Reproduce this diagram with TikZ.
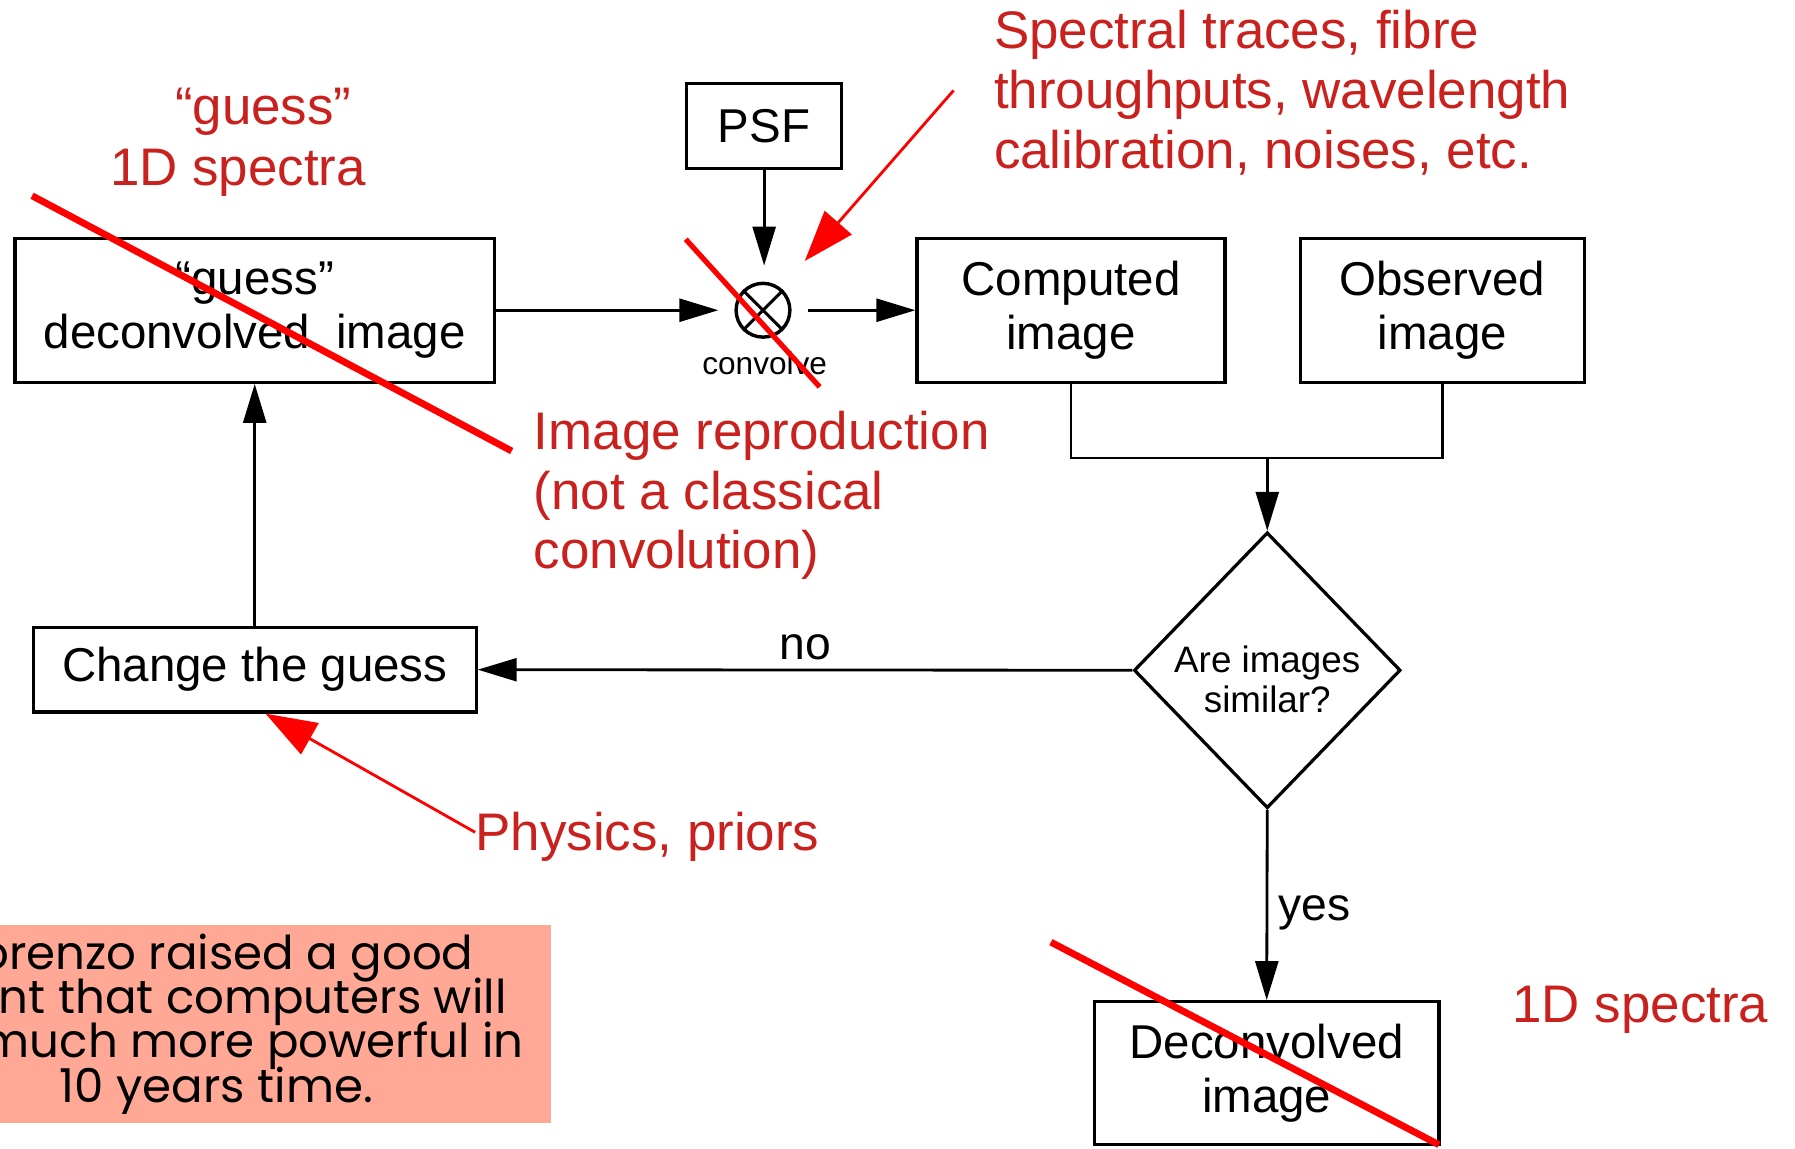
\documentclass[tikz,border=0pt]{standalone}
\usepackage{fontspec}
\setmainfont{Liberation Sans}
\newfontfamily\remarkfont{Poppins}
\usetikzlibrary{arrows.meta,shapes.geometric}

\definecolor{notered}{RGB}{201,33,30}
\definecolor{salmon}{RGB}{255,168,150}

% tight lines for the remark box
\newcommand\remarkstyle{\remarkfont\fontsize{23.2}{22}\selectfont\setlength{\lineskiplimit}{-20pt}}

\tikzset{
	blk/.style={draw, line width=1.6pt, align=center, inner sep=0pt, font=\fontsize{23.6}{26.7}\selectfont},
	arr/.style={line width=1.4pt, -{Triangle[length=0.68cm,width=0.4cm]}},
	redarr/.style={red, line width=1.4pt, -{Triangle[length=0.89cm,width=0.62cm]}},
	strike/.style={red, line width=#1},
	strike/.default=3.4pt,
	note/.style={text=notered, inner sep=0pt, align=left, font=\fontsize{26.3}{29.6}\selectfont},
}

\begin{document}
\begin{tikzpicture}[x=0.02cm, y=-0.02cm]
	\useasboundingbox (0,0) rectangle (1568,1003);
	\clip (0,0) rectangle (1568,1003);
	
	% boxes of the loop
	\node[blk, minimum width=8.38cm, minimum height=2.52cm] (guess) at (222.5,271) {“guess”\\deconvolved\ \ image};
	\node[blk, minimum width=2.7cm, minimum height=1.48cm] (psf) at (667.5,110) {PSF};
	\node[draw, circle, line width=1.7pt, minimum size=0.94cm, inner sep=0pt] (conv) at (666.5,271) {};
	\draw[line width=1.5pt] (conv.north west) -- (conv.south east) (conv.north east) -- (conv.south west);
	\node[font=\fontsize{15.7}{18}\selectfont] (convlbl) at (668,317) {convolve};
	\node[blk, minimum width=5.38cm, minimum height=2.52cm] (comp) at (935.5,271) {Computed\\image};
	\node[blk, minimum width=4.96cm, minimum height=2.52cm] (obs) at (1260,271) {Observed\\image};
	\node[draw, diamond, line width=1.6pt, minimum width=4.66cm, minimum height=4.82cm, inner sep=0pt,
		label={[yshift=-0.16cm, align=center, font=\fontsize{18.3}{19.9}\selectfont]center:{Are images\\similar?}}] (sim) at (1107,585.5) {};
	\node[blk, minimum width=7.74cm, minimum height=1.48cm] (chg) at (222.5,585) {Change the guess};
	\node[blk, minimum width=6.02cm, minimum height=2.5cm] (dec) at (1106.5,937.5) {Deconvolved\\image};
	
	% connectors
	\coordinate (join) at (1107,400);
	\draw[arr, shorten >=0.28cm] (guess.east) -- (conv.west);
	\draw[arr, shorten <=0.28cm] (conv.east) -- (comp.west);
	\draw[arr, shorten >=0.28cm] (psf.south) -- (psf.south |- conv.north);
	\draw[line width=1.4pt] (comp.south) |- (join) -| (obs.south);
	\draw[arr] (join) -- (sim.north);
	\draw[arr] (sim.west) -- node[above, inner sep=4.3pt, font=\fontsize{23}{26}\selectfont]{no} (chg.east);
	\draw[arr] (sim.south) -- node[right, pos=0.54, inner sep=5pt, font=\fontsize{23}{26}\selectfont]{yes} (dec.north);
	\draw[arr] (chg.north) -- (guess.south);
	
	% remark box at the bottom left
	\node[fill=salmon, minimum width=11.68cm, minimum height=3.46cm, align=center, inner sep=0pt,
		font=\remarkstyle] (remark) at (189,894.5) {Lorenzo raised a good\\point that computers will\\be much more powerful in\\10 years time.};
	
	% red notes
	\node[note] (gq) at (230,98) {“guess”};
	\node[note] (gspec) at (208,151) {1D spectra};
	\node[note, anchor=west] (spec) at (868,81) {Spectral traces, fibre\\throughputs, wavelength\\calibration, noises, etc.};
	\node[note, anchor=west] (repro) at (466,433) {Image reproduction\\(not a classical\\convolution)};
	\node[note, anchor=west] (phys) at (415,731) {Physics, priors};
	\node[note] (dspec) at (1433,882) {1D spectra};
	
	\coordinate (spectail) at (833,79);
	\coordinate (spectip) at (703,228);
	\draw[redarr] (spectail) -- (spectip);
	\draw[redarr] ([yshift=0.08cm]phys.west) -- ([xshift=0.19cm]chg.south);
	
	% crossed out parts
	\coordinate (s1a) at (28,171);
	\coordinate (s1b) at (447,394);
	\coordinate (s2a) at (599,209);
	\coordinate (s2b) at (716,338);
	\coordinate (s3a) at (918,823);
	\coordinate (s3b) at (1257,1000);
	\draw[strike] (s1a) -- (s1b);
	\draw[strike=2.6pt] (s2a) -- (s2b);
	\draw[strike] (s3a) -- (s3b);
\end{tikzpicture}
\end{document}
